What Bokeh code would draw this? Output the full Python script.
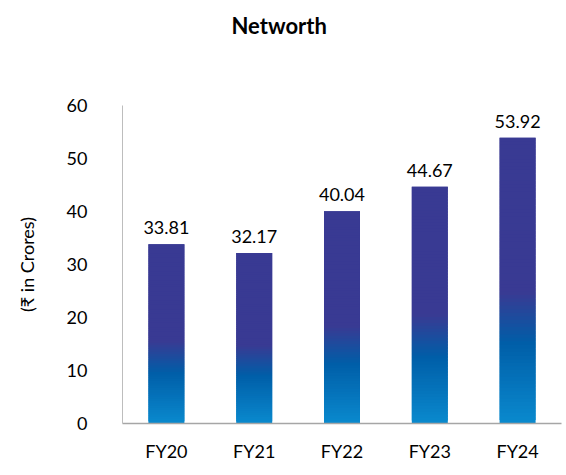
from bokeh.plotting import figure
from bokeh.models import ColumnDataSource, LabelSet, Range1d, FixedTicker, Title
from bokeh.core.properties import value
from bokeh.embed import file_html
from bokeh.resources import INLINE

categories = ["FY20", "FY21", "FY22", "FY23", "FY24"]
networth = [33.81, 32.17, 40.04, 44.67, 53.92]
value_labels = ["33.81", "32.17", "40.04", "44.67", "53.92"]
y_ticks = [0, 10, 20, 30, 40, 50, 60]

# gradient stops (fraction of bar height from bottom, rgb)
grad_stops = [(0.0, (10, 138, 206)), (0.28, (0, 94, 168)), (0.46, (57, 58, 147)), (1.0, (57, 58, 147))]

def grad_color(f):
    for (f0, c0), (f1, c1) in zip(grad_stops[:-1], grad_stops[1:]):
        if f0 <= f <= f1:
            t = (f - f0) / (f1 - f0) if f1 > f0 else 0
            c = [round(a + (b - a) * t) for a, b in zip(c0, c1)]
            return "#%02x%02x%02x" % tuple(c)
    return "#%02x%02x%02x" % grad_stops[-1][1]

FONT = "Lato"

p = figure(x_range=categories, y_range=Range1d(0, 60), width=566, height=475,
           output_backend="svg", toolbar_location=None,
           min_border_left=122, min_border_right=5, min_border_bottom=52, min_border_top=0)

# trailing blank lines make the title panel tall while the text stays near the top
p.title = Title(text="Networth\n\n", align="left", offset=109, standoff=22, vertical_align="top",
                text_font=FONT, text_font_size="22px", text_font_style="bold", text_color="black")

N = 80
xs, bots, tops, cols = [], [], [], []
for c, v in zip(categories, networth):
    for k in range(N):
        xs.append(c)
        bots.append(v * k / N)
        tops.append(v * min(k + 2, N) / N)
        cols.append(grad_color((k + 0.5) / N))
p.vbar(x=xs, bottom=bots, top=tops, width=0.41, color=cols, line_color=None)

src = ColumnDataSource(dict(x=categories, y=networth, t=value_labels))
p.add_layout(LabelSet(x="x", y="y", text="t", source=src, text_align="center",
                      text_baseline="bottom", y_offset=10, text_font=value(FONT),
                      text_font_size=value("18px"), text_color=value("black")))

p.xgrid.grid_line_color = None
p.ygrid.grid_line_color = None
p.outline_line_color = None
p.background_fill_color = "white"
p.border_fill_color = "white"

yax = p.left[0]
xax = p.below[0]
yax.ticker = FixedTicker(ticks=y_ticks)
yax.axis_label = "(₹ in Crores)"
yax.axis_label_text_font = FONT
yax.axis_label_text_font_size = "18px"
yax.axis_label_text_font_style = "normal"
yax.axis_label_text_color = "black"
yax.axis_label_standoff = 26
yax.major_label_standoff = 29
yax.axis_line_color = "#bdbdbd"
xax.axis_line_color = "#a6a6a6"
xax.axis_line_width = 1.5
for ax in (xax, yax):
    ax.major_tick_line_color = None
    ax.minor_tick_line_color = None
    ax.major_label_text_font = FONT
    ax.major_label_text_font_size = "18px"
    ax.major_label_text_color = "black"
xax.major_label_standoff = 10

open("out.html", "w").write(file_html(p, INLINE))
